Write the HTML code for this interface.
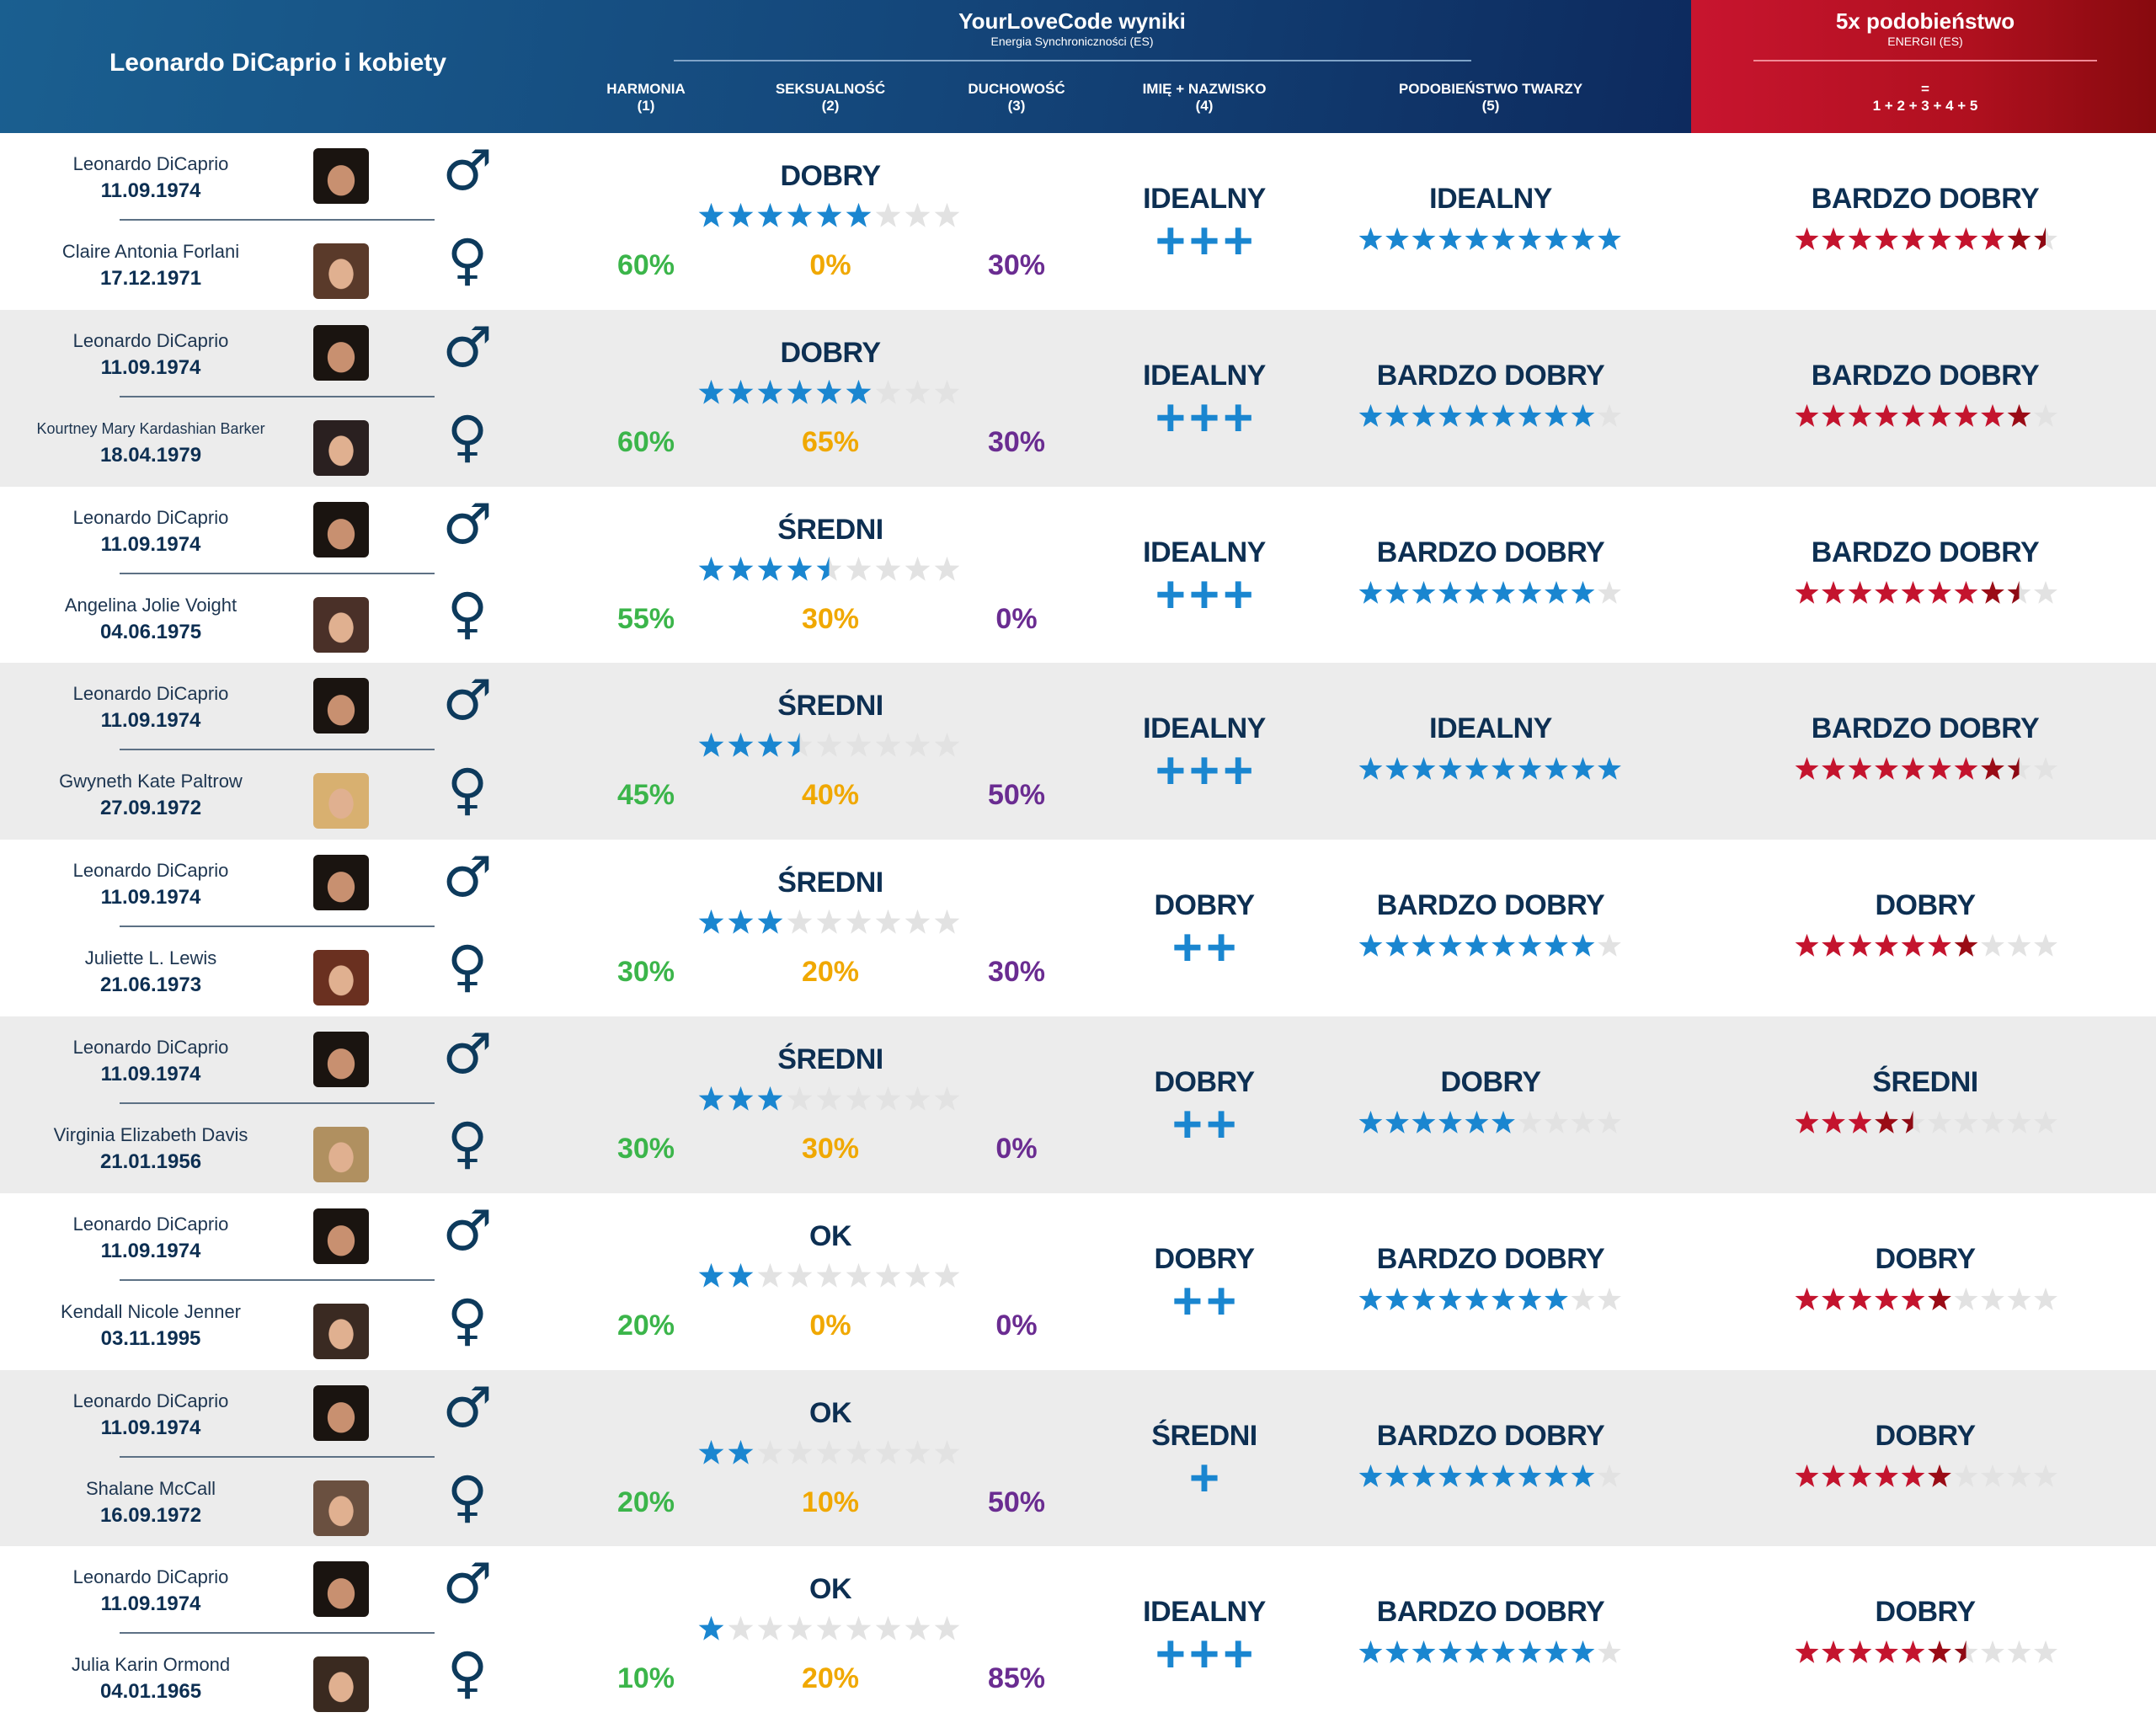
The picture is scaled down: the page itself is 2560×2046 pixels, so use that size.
<!DOCTYPE html>
<html><head><meta charset="utf-8">
<style>
*{margin:0;padding:0;box-sizing:border-box}
body{width:2560px;height:2046px;overflow:hidden;background:#fff;font-family:"Liberation Sans",sans-serif;color:#0d2f52;position:relative}
.a{position:absolute;white-space:nowrap;transform:translateX(-50%);text-align:center}
#hb{position:absolute;left:0;top:0;width:2008px;height:158px;background:linear-gradient(100deg,#1a5f90 0%,#14467a 55%,#0d2a5e 100%)}
#hr{position:absolute;left:2008px;top:0;width:552px;height:158px;background:linear-gradient(90deg,#c8152f 0%,#b0101f 60%,#870a0e 100%)}
.w{color:#fff;font-weight:bold}
.row{position:absolute;left:0;width:2560px;height:210px}
.lbl{font-weight:900;font-size:34px;color:#0d2f52;letter-spacing:-0.5px}
.pct{font-weight:900;font-size:34px}
.nm{font-size:22px;color:#1d3550}
.dt{font-size:24px;font-weight:bold;color:#0d2f52}
.ph{position:absolute;width:66px;height:66px;border-radius:6px}
.g{font-family:"DejaVu Sans",sans-serif;font-weight:bold;font-size:66px;color:#0d3a5c;line-height:1}
.pl{font-weight:bold;font-size:62px;color:#1a86d0;letter-spacing:4px;line-height:1}
</style></head><body>
<div id="hb"></div><div id="hr"></div>
<div class="a w" style="left:330px;top:58px;font-size:30px">Leonardo DiCaprio i kobiety</div>
<div class="a w" style="left:1273px;top:10px;font-size:26px">YourLoveCode wyniki</div>
<div class="a w" style="left:1273px;top:41px;font-size:14px;font-weight:normal">Energia Synchroniczności (ES)</div>
<div style="position:absolute;left:800px;top:71px;width:947px;height:2px;background:#7fa3c8"></div>
<div class="a w" style="left:767px;top:96px;font-size:17px;line-height:20px">HARMONIA<br>(1)</div>
<div class="a w" style="left:986px;top:96px;font-size:17px;line-height:20px">SEKSUALNOŚĆ<br>(2)</div>
<div class="a w" style="left:1207px;top:96px;font-size:17px;line-height:20px">DUCHOWOŚĆ<br>(3)</div>
<div class="a w" style="left:1430px;top:96px;font-size:17px;line-height:20px">IMIĘ + NAZWISKO<br>(4)</div>
<div class="a w" style="left:1770px;top:96px;font-size:17px;line-height:20px">PODOBIEŃSTWO TWARZY<br>(5)</div>
<div class="a w" style="left:2286px;top:10px;font-size:26px">5x podobieństwo</div>
<div class="a w" style="left:2286px;top:41px;font-size:14px;font-weight:normal">ENERGII (ES)</div>
<div style="position:absolute;left:2082px;top:71px;width:408px;height:2px;background:#f08a96"></div>
<div class="a w" style="left:2286px;top:96px;font-size:17px;line-height:20px">=<br>1 + 2 + 3 + 4 + 5</div>
<div id="rows"></div>
<svg width="0" height="0" style="position:absolute"><defs>
<linearGradient id="hbl"><stop offset="50%" stop-color="#1a86d0"/><stop offset="50%" stop-color="#e2e2e2"/></linearGradient>
<linearGradient id="hrd"><stop offset="50%" stop-color="#8e0a14"/><stop offset="50%" stop-color="#e2e2e2"/></linearGradient>
</defs></svg>
<script>
var D=[
["Claire Antonia Forlani","17.12.1971","DOBRY",6,60,0,30,"IDEALNY",3,"IDEALNY",10,"BARDZO DOBRY",9.5,"#5a3a2a"],
["Kourtney Mary Kardashian Barker","18.04.1979","DOBRY",6,60,65,30,"IDEALNY",3,"BARDZO DOBRY",9,"BARDZO DOBRY",9,"#2a2020"],
["Angelina Jolie Voight","04.06.1975","ŚREDNI",4.5,55,30,0,"IDEALNY",3,"BARDZO DOBRY",9,"BARDZO DOBRY",8.5,"#4a3028"],
["Gwyneth Kate Paltrow","27.09.1972","ŚREDNI",3.5,45,40,50,"IDEALNY",3,"IDEALNY",10,"BARDZO DOBRY",8.5,"#d8b070"],
["Juliette L. Lewis","21.06.1973","ŚREDNI",3,30,20,30,"DOBRY",2,"BARDZO DOBRY",9,"DOBRY",7,"#6a3020"],
["Virginia Elizabeth Davis","21.01.1956","ŚREDNI",3,30,30,0,"DOBRY",2,"DOBRY",6,"ŚREDNI",4.5,"#b09060"],
["Kendall Nicole Jenner","03.11.1995","OK",2,20,0,0,"DOBRY",2,"BARDZO DOBRY",8,"DOBRY",6,"#3a2a22"],
["Shalane McCall","16.09.1972","OK",2,20,10,50,"ŚREDNI",1,"BARDZO DOBRY",9,"DOBRY",6,"#6a5040"],
["Julia Karin Ormond","04.01.1965","OK",1,10,20,85,"IDEALNY",3,"BARDZO DOBRY",9,"DOBRY",6.5,"#3a2a20"]];
var P="M50 3 L62 37 L98 38 L70 60 L80 96 L50 75 L20 96 L30 60 L2 38 L38 37Z";
function stars(x,y,n,val,pitch,sz,col,half,dark){
 var s='<svg style="position:absolute;left:'+x+'px;top:'+y+'px" width="'+(pitch*n)+'" height="'+sz+'">';
 for(var i=0;i<n;i++){var f;
  if(i+1<=val)f=(dark&&i+1>val-1)?dark:col;else if(i+0.5<=val)f='url(#'+half+')';else f='#e2e2e2';
  s+='<path transform="translate('+(i*pitch)+',0) scale('+(sz/100)+')" d="'+P+'" fill="'+f+'"/>';}
 return s+'</svg>';}
var h='';
D.forEach(function(d,k){
 var t=158+k*209.8;
 h+='<div class="row" style="top:'+t+'px;background:'+(k%2?'#ececec':'#fff')+'">';
 h+='<div class="a nm" style="left:179px;top:24px">Leonardo DiCaprio</div>';
 h+='<div class="a dt" style="left:179px;top:55px">11.09.1974</div>';
 h+='<div style="position:absolute;left:142px;top:102px;width:374px;height:2px;background:#5d7185"></div>';
 h+='<div class="a nm" style="left:179px;top:128px;'+(d[0].length>25?'font-size:18px;top:131px':'')+'">'+d[0]+'</div>';
 h+='<div class="a dt" style="left:179px;top:159px">'+d[1]+'</div>';
 h+='<div class="ph" style="left:372px;top:18px;background:radial-gradient(ellipse 40% 45% at 50% 58%,#c89070 60%,#1a1410 62%) ,#e8e0d8"></div>';
 h+='<div class="ph" style="left:372px;top:131px;background:radial-gradient(ellipse 36% 44% at 50% 55%,#e0b090 60%,'+d[13]+' 63%) ,#ddd"></div>';
 h+='<div class="a g" style="left:555px;top:12px">♂</div>';
 h+='<div class="a g" style="left:555px;top:118px">♀</div>';
 h+='<div class="a lbl" style="left:986px;top:32px">'+d[2]+'</div>';
 h+=stars(829,82,9,d[3],35,31,'#1a86d0','hbl');
 h+='<div class="a pct" style="left:767px;top:138px;color:#3bb54a">'+d[4]+'%</div>';
 h+='<div class="a pct" style="left:986px;top:138px;color:#f0a800">'+d[5]+'%</div>';
 h+='<div class="a pct" style="left:1207px;top:138px;color:#6a2c91">'+d[6]+'%</div>';
 h+='<div class="a lbl" style="left:1430px;top:59px">'+d[7]+'</div>';
 h+='<div class="a pl" style="left:1432px;top:98px">'+'+++'.slice(0,d[8])+'</div>';
 h+='<div class="a lbl" style="left:1770px;top:59px">'+d[9]+'</div>';
 h+=stars(1613,111,10,d[10],31.5,29,'#1a86d0','hbl');
 h+='<div class="a lbl" style="left:2286px;top:59px">'+d[11]+'</div>';
 h+=stars(2131,111,10,d[12],31.5,29,'#c4142e','hrd','#9a0c16');
 h+='</div>';
});
document.getElementById('rows').innerHTML=h;
</script>
</body></html>
